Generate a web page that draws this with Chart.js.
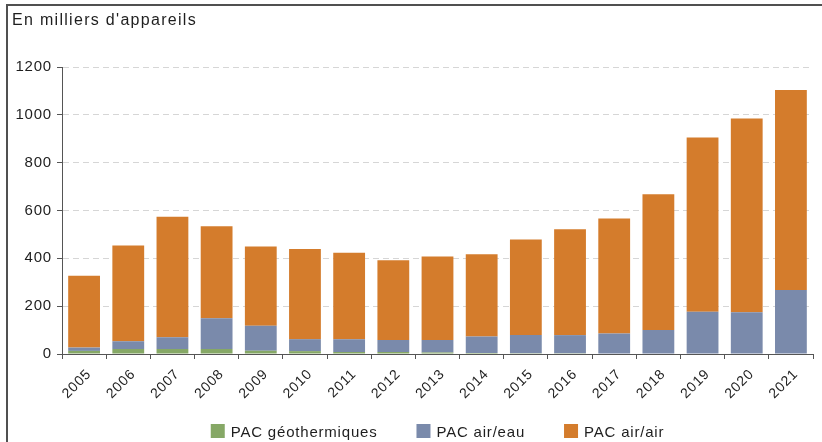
<!DOCTYPE html>
<html lang="fr">
<head>
<meta charset="utf-8">
<title>Pompes à chaleur vendues</title>
<script src="https://cdn.jsdelivr.net/npm/chart.js@4.4.1/dist/chart.umd.min.js"></script>
<style>
  html, body { margin: 0; padding: 0; background: #fff; }
  #wrap { position: relative; width: 822px; height: 442px; }
</style>
</head>
<body>
<div id="wrap"><canvas id="c"></canvas></div>
<script>
// Ventes annuelles de pompes à chaleur, en milliers d'appareils
const years = ['2005', '2006', '2007', '2008', '2009', '2010', '2011', '2012', '2013',
               '2014', '2015', '2016', '2017', '2018', '2019', '2020', '2021'];
const pacGeothermiques = [13, 21, 21, 21, 14, 12, 8, 8, 6, 4, 3, 3, 2, 2, 2, 2, 2];
const pacAirEau = [14, 32, 49, 128, 104, 50, 54, 51, 53, 69, 76, 76, 84, 98, 175, 173, 266];
const pacAirAir = [300, 401, 504, 385, 332, 377, 361, 333, 349, 344, 400, 443, 481, 568, 728, 810, 836];
const seriesLabels = ['PAC géothermiques', 'PAC air/eau', 'PAC air/air'];
const yTicks = [0, 200, 400, 600, 800, 1000, 1200];
const unitLabel = "En milliers d'appareils";

const COLORS = ['#86a866', '#7a8aab', '#d47c2c'];
const TEXT = '#1e1e1e';
const AXIS = '#555';
const FONT = "'Liberation Sans', Arial, Helvetica, sans-serif";
const SPACING = '0.8px';

// Frame, unit caption and bottom legend
const decor = {
  id: 'decor',
  beforeLayout(chart) { chart.ctx.letterSpacing = SPACING; },
  beforeDraw(chart) {
    const ctx = chart.ctx;
    ctx.save();
    ctx.fillStyle = '#fff';
    ctx.fillRect(0, 0, chart.width, chart.height);
    ctx.fillStyle = '#505050';
    ctx.fillRect(6, 4, chart.width - 6, 2);
    ctx.fillRect(6, 4, 2, chart.height - 4);
    ctx.restore();
    ctx.letterSpacing = SPACING;
  },
  afterDraw(chart) {
    const ctx = chart.ctx;
    ctx.save();
    ctx.fillStyle = TEXT;
    ctx.textAlign = 'left';
    ctx.textBaseline = 'alphabetic';
    ctx.letterSpacing = '1.3px';
    ctx.font = '16px ' + FONT;
    ctx.fillText(unitLabel, 12, 24.5);

    ctx.letterSpacing = SPACING;
    ctx.font = '15px ' + FONT;
    const box = 14, gap = 6, between = 39;
    const ds = chart.data.datasets;
    const widths = ds.map(d => box + gap + ctx.measureText(d.label).width);
    const total = widths.reduce((a, b) => a + b, 0) + between * (ds.length - 1);
    const area = chart.chartArea;
    let x = (area.left + area.right) / 2 - total / 2;
    const boxTop = 424;
    ds.forEach((d, i) => {
      ctx.fillStyle = d.backgroundColor;
      ctx.fillRect(x, boxTop, box, box);
      ctx.fillStyle = TEXT;
      ctx.fillText(d.label, x + box + gap, boxTop + 13);
      x += widths[i] + between;
    });
    ctx.restore();
  }
};

new Chart(document.getElementById('c'), {
  type: 'bar',
  data: {
    labels: years,
    datasets: [
      { label: seriesLabels[0], data: pacGeothermiques, backgroundColor: COLORS[0] },
      { label: seriesLabels[1], data: pacAirEau, backgroundColor: COLORS[1] },
      { label: seriesLabels[2], data: pacAirAir, backgroundColor: COLORS[2] }
    ]
  },
  options: {
    responsive: true,
    maintainAspectRatio: false,
    animation: false,
    devicePixelRatio: 1,
    layout: { padding: { left: 8, right: 9, top: 67, bottom: 0 } },
    datasets: {
      bar: { borderWidth: 0, categoryPercentage: 0.8, barPercentage: 0.9 }
    },
    plugins: {
      legend: { display: false },
      title: { display: false },
      tooltip: { enabled: false }
    },
    scales: {
      x: {
        stacked: true,
        grid: { display: true, drawOnChartArea: false, offset: true, tickLength: 5,
                color: AXIS, tickColor: AXIS, tickBorderDash: [] },
        border: { display: true, color: AXIS, width: 1 },
        ticks: { color: TEXT, font: { family: FONT, size: 14 }, minRotation: 45, maxRotation: 45,
                 autoSkip: false, padding: 7, labelOffset: 5 },
        afterFit(scale) { scale.height = 88; }
      },
      y: {
        stacked: true,
        min: yTicks[0],
        max: yTicks[yTicks.length - 1],
        afterBuildTicks(scale) { scale.ticks = yTicks.map(v => ({ value: v })); },
        grid: { color: '#d6d6d6', lineWidth: 1, tickLength: 5, tickColor: AXIS, tickBorderDash: [] },
        border: { display: true, color: AXIS, width: 1, dash: [6, 4] },
        ticks: { color: TEXT, font: { family: FONT, size: 15 }, padding: 5,
                 callback: (value) => String(value) },
        afterFit(scale) { scale.width = 54; }
      }
    }
  },
  plugins: [decor]
});
</script>
</body>
</html>
